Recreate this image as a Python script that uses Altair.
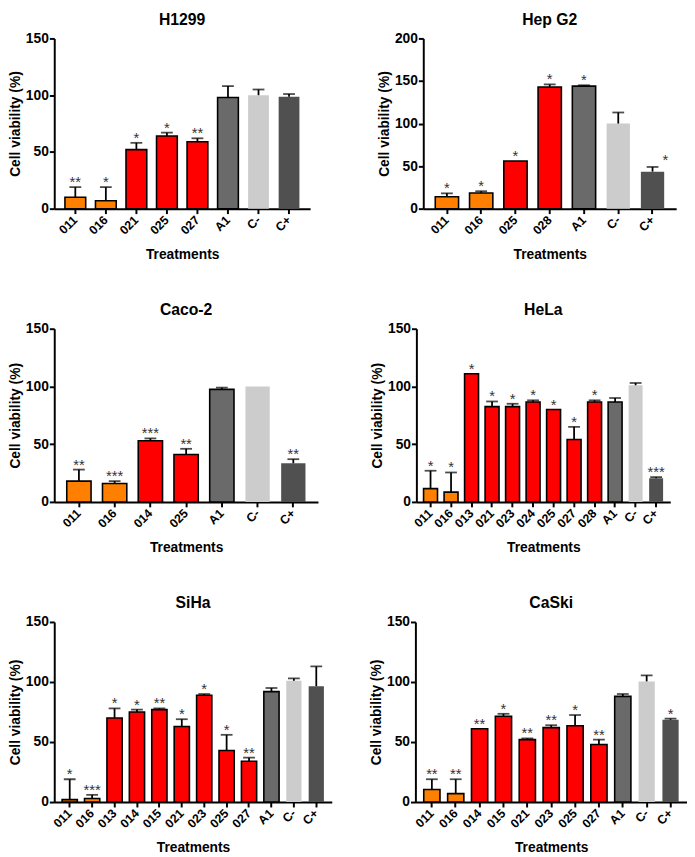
import altair as alt
import pandas as pd

# ---------------- data ----------------
h1299_cats = ["011", "016", "021", "025", "027", "A1", "C-", "C+"]
h1299_vals = [10, 7, 52, 64, 59, 98, 100, 98.5]
h1299_upper = [19, 19, 58, 67, 62, 108, 105, 101]
h1299_stars = ["**", "*", "*", "*", "**", "", "", ""]

hepg2_cats = ["011", "016", "025", "028", "A1", "C-", "C+"]
hepg2_vals = [14, 18.5, 56, 143, 144, 100, 43.5]
hepg2_upper = [18, 20.5, 56, 146, 145, 113, 49]
hepg2_stars = ["*", "*", "*", "*", "*", "", "*"]

caco2_cats = ["011", "016", "014", "025", "A1", "C-", "C+"]
caco2_vals = [18, 16, 53, 41, 97.5, 100, 33.5]
caco2_upper = [28, 18, 55, 46, 99, 100, 37]
caco2_stars = ["**", "***", "***", "**", "", "", "**"]

hela_cats = ["011", "016", "013", "021", "023", "024", "025", "027", "028", "A1", "C-", "C+"]
hela_vals = [11.5, 8.5, 111, 82.5, 82.5, 86.5, 80, 54, 86.5, 86.5, 101, 20.5]
hela_upper = [27, 25.5, 111, 87, 85, 88, 80, 65, 88, 90, 103, 21.5]
hela_stars = ["*", "*", "*", "*", "*", "*", "*", "*", "*", "", "", "***"]

siha_cats = ["011", "016", "013", "014", "015", "021", "023", "025", "027", "A1", "C-", "C+"]
siha_vals = [2, 3, 70, 75, 77, 63, 89, 43, 34, 92, 101, 96.5]
siha_upper = [19, 6, 78, 77, 78, 69, 90, 56, 37, 95, 103, 113]
siha_stars = ["*", "***", "*", "*", "**", "*", "*", "*", "**", "", "", ""]

caski_cats = ["011", "016", "014", "015", "021", "023", "025", "027", "A1", "C-", "C+"]
caski_vals = [10.5, 7, 61, 71.5, 52, 62, 63.5, 48, 88, 100.5, 68.5]
caski_upper = [19, 19, 61, 73.5, 53, 64, 72.5, 52, 90, 105.5, 69.5]
caski_stars = ["**", "**", "**", "*", "**", "**", "*", "**", "", "", "*"]

group_domain = ["orange", "red", "A1", "Cneg", "Cpos"]
group_colors = ["#FF8000", "#FF0000", "#6A6A6A", "#CCCCCC", "#505050"]

FONT = "Liberation Sans"


def panel(name, cats, vals, upper, stars, ymax, w, h, shifted_star=None):
    df = pd.DataFrame({"cat": cats, "val": vals, "up": upper, "star": stars})
    yscale = alt.Scale(domain=[0, ymax], nice=False, zero=True)
    ticks = list(range(0, ymax + 1, 50))
    base = alt.Chart(df).transform_calculate(
        grp="datum.cat == '011' || datum.cat == '016' ? 'orange' : "
            "datum.cat == 'A1' ? 'A1' : datum.cat == 'C-' ? 'Cneg' : "
            "datum.cat == 'C+' ? 'Cpos' : 'red'"
    ).encode(
        x=alt.X(
            "cat:N",
            sort=cats,
            scale=alt.Scale(paddingInner=0.32, paddingOuter=0.35),
            axis=alt.Axis(
                title="Treatments",
                labelAngle=315,
                labelAlign="right",
                labelBaseline="middle",
                labelPadding=4,
                titlePadding=11,
            ),
        )
    )
    bars = base.mark_bar(strokeWidth=1.6).encode(
        y=alt.Y(
            "val:Q",
            scale=yscale,
            axis=alt.Axis(title="Cell viability (%)", values=ticks, titlePadding=3, labelPadding=1),
        ),
        color=alt.Color("grp:N", scale=alt.Scale(domain=group_domain, range=group_colors), legend=None),
        stroke=alt.condition(
            "datum.grp == 'Cneg' || datum.grp == 'Cpos'",
            alt.value("transparent"),
            alt.value("black"),
        ),
    )
    err = base.transform_filter("datum.up > datum.val").mark_rule(
        color="black", strokeWidth=1.8
    ).encode(y=alt.Y("val:Q", scale=yscale), y2="up:Q")
    cap = base.transform_filter("datum.up > datum.val").mark_tick(
        color="black", thickness=1.8, size=12
    ).encode(y=alt.Y("up:Q", scale=yscale))
    tstyle = dict(baseline="alphabetic", fontSize=15, color="#333333", font=FONT)
    if shifted_star is None:
        txt = base.mark_text(dy=0, **tstyle).encode(
            y=alt.Y("up:Q", scale=yscale), text="star:N"
        )
        layers = [bars, err, cap, txt]
    else:
        txt = base.transform_filter(f"datum.cat != '{shifted_star}'").mark_text(
            dy=0, **tstyle
        ).encode(y=alt.Y("up:Q", scale=yscale), text="star:N")
        txt2 = base.transform_filter(f"datum.cat == '{shifted_star}'").mark_text(
            dy=-2, dx=13, **tstyle
        ).encode(y=alt.Y("up:Q", scale=yscale), text="star:N")
        layers = [bars, err, cap, txt, txt2]
    return alt.layer(*layers).properties(width=w, height=h, title=name)


p1 = panel("H1299", h1299_cats, h1299_vals, h1299_upper, h1299_stars, 150, 260, 173)
p2 = panel("Hep G2", hepg2_cats, hepg2_vals, hepg2_upper, hepg2_stars, 200, 257, 173, shifted_star="C+")
p3 = panel("Caco-2", caco2_cats, caco2_vals, caco2_upper, caco2_stars, 150, 268, 176)
p4 = panel("HeLa", hela_cats, hela_vals, hela_upper, hela_stars, 150, 258, 176)
p5 = panel("SiHa", siha_cats, siha_vals, siha_upper, siha_stars, 150, 282, 183)
p6 = panel("CaSki", caski_cats, caski_vals, caski_upper, caski_stars, 150, 276, 183)

chart = alt.vconcat(
    alt.hconcat(p1, p2, spacing=68),
    alt.hconcat(p3, p4, spacing=53),
    alt.hconcat(p5, p6, spacing=38),
    spacing=41,
).properties(
    padding={"left": 0, "top": -3, "right": 0, "bottom": 0}
).configure_view(strokeWidth=0).configure_axis(
    grid=False,
    domainColor="black",
    domainWidth=2,
    tickColor="black",
    tickWidth=2,
    tickSize=5,
    labelFont=FONT,
    labelFontWeight="bold",
    labelFontSize=14,
    labelColor="black",
    titleFont=FONT,
    titleFontWeight="bold",
    titleFontSize=14,
    titleColor="black",
).configure_axisX(
    labelFontSize=12.5
).configure_title(
    font=FONT, fontSize=16, fontWeight="bold", color="black", anchor="middle", offset=0
)

chart.save("out.html", embed_options={"renderer": "svg", "actions": False})
